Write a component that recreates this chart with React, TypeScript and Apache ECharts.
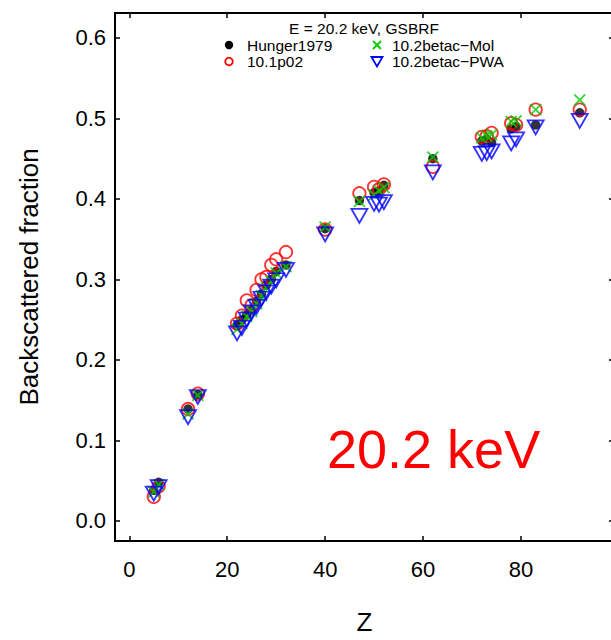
import React, { useEffect, useRef } from "react";
import * as echarts from "echarts";

// Atomic number Z of each measured element
const atomicZ = [5, 6, 12, 14, 22, 23, 24, 25, 26, 27, 28, 29, 30, 32, 40, 47, 50, 51, 52, 62, 72, 73, 74, 78, 79, 83, 92];
// Backscattered fraction per data set
const hunger1979 = [0.038, 0.048, 0.139, 0.157, 0.243, 0.25, 0.256, 0.262, 0.273, 0.282, 0.293, 0.3, 0.31, 0.318, 0.363, 0.398, 0.408, 0.41, 0.417, 0.45, 0.472, 0.474, 0.47, 0.487, 0.49, 0.492, 0.507];
const g4_101p02 = [0.03, 0.043, 0.139, 0.158, 0.245, 0.255, 0.274, 0.268, 0.287, 0.3, 0.303, 0.318, 0.325, 0.334, 0.362, 0.407, 0.415, 0.412, 0.418, 0.44, 0.477, 0.478, 0.482, 0.494, 0.492, 0.511, 0.511];
const betacMol = [0.036, 0.045, 0.133, 0.156, 0.238, 0.245, 0.254, 0.26, 0.27, 0.28, 0.29, 0.298, 0.308, 0.316, 0.365, 0.397, 0.405, 0.41, 0.414, 0.452, 0.476, 0.478, 0.48, 0.496, 0.497, 0.511, 0.523];
const betacPWA = [0.034, 0.042, 0.129, 0.154, 0.233, 0.24, 0.25, 0.259, 0.266, 0.276, 0.284, 0.291, 0.299, 0.312, 0.356, 0.379, 0.394, 0.393, 0.396, 0.433, 0.456, 0.457, 0.459, 0.469, 0.474, 0.489, 0.497];

const seriesNames = ["Hunger1979", "10.1p02", "10.2betac\u2212Mol", "10.2betac\u2212PWA"];
const legendTitle = "E = 20.2 keV, GSBRF";
const energyLabel = "20.2 keV";
const xTitle = "Z";
const yTitle = "Backscattered fraction";

const FONT = '"Liberation Sans", Arial, Helvetica, sans-serif';

const pairs = (vals: number[]) => atomicZ.map((z, i) => [z, vals[i]]);

export default function App() {
  const ref = useRef<HTMLDivElement>(null);
  useEffect(() => {
    if (!ref.current) return;
    const chart = echarts.init(ref.current, null, { renderer: "svg" });
    const axisLineStyle = { color: "#000", width: 2 };
    const tickStyle = { color: "#000", width: 1.5 };
    const yFmt = (v: number) =>
      Math.abs(v * 10 - Math.round(v * 10)) < 1e-6 ? (Math.round(v * 10) / 10).toFixed(1) : "";
    const xFmt = (v: number) =>
      Math.abs(v / 20 - Math.round(v / 20)) < 1e-6 ? String(Math.round(v)) : "";
    const xBase = {
      type: "value",
      min: -2.92,
      max: 99,
      minInterval: 20,
      maxInterval: 20,
      splitLine: { show: false },
      axisLine: { show: true, onZero: false, lineStyle: axisLineStyle },
      axisTick: { show: true, inside: true, length: 5, lineStyle: tickStyle },
    };
    const yBase = {
      type: "value",
      min: -0.0249,
      max: 0.631,
      minInterval: 0.1,
      maxInterval: 0.1,
      splitLine: { show: false },
      axisLine: { show: true, onZero: false, lineStyle: axisLineStyle },
      axisTick: { show: true, inside: true, length: 5, lineStyle: tickStyle },
    };
    const tx = (text: string, x: number, y: number, size: number, color = "#000", align = "left") => ({
      type: "text",
      x,
      y,
      style: { text, font: `${size}px ${FONT}`, fill: color, align, verticalAlign: "middle" },
    });
    chart.setOption({
      animation: false,
      backgroundColor: "#fff",
      grid: {
        left: 115,
        top: 13,
        width: 499,
        height: 528,
        containLabel: false,
        outerBoundsMode: "none",
      },
      xAxis: [
        {
          ...xBase,
          position: "bottom",
          name: xTitle,
          nameLocation: "middle",
          nameGap: 68,
          nameTextStyle: { fontFamily: FONT, fontSize: 26, color: "#000", lineHeight: 26 },
          axisLabel: { show: true, margin: 17, fontFamily: FONT, fontSize: 22, color: "#000", formatter: xFmt },
        },
        { ...xBase, position: "top", axisLabel: { show: false } },
      ],
      yAxis: [
        {
          ...yBase,
          position: "left",
          name: yTitle,
          nameLocation: "middle",
          nameGap: 73,
          nameTextStyle: { fontFamily: FONT, fontSize: 26, color: "#000" },
          axisLabel: { show: true, margin: 9, fontFamily: FONT, fontSize: 22, color: "#000", formatter: yFmt },
        },
        { ...yBase, position: "right", axisLabel: { show: false } },
      ],
      series: [
        {
          name: seriesNames[0],
          type: "scatter",
          data: pairs(hunger1979),
          symbol: "circle",
          symbolSize: 9.5,
          itemStyle: { color: "#000" },
        },
        {
          name: seriesNames[1],
          type: "scatter",
          data: pairs(g4_101p02),
          symbol: "circle",
          symbolSize: 12.5,
          itemStyle: { color: "rgba(0,0,0,0)", borderColor: "#ff0000", borderWidth: 1.8 },
        },
        {
          name: seriesNames[2],
          type: "scatter",
          data: pairs(betacMol),
          symbol: "path://M0,0L10,10M0,10L10,0",
          symbolSize: 11,
          itemStyle: { color: "rgba(0,0,0,0)", borderColor: "#00cc00", borderWidth: 1.8 },
        },
        {
          name: seriesNames[3],
          type: "scatter",
          data: pairs(betacPWA),
          symbol: "path://M0,0L16,0L8,14Z",
          symbolSize: [16, 14],
          itemStyle: { color: "rgba(0,0,0,0)", borderColor: "#0000ff", borderWidth: 1.8 },
        },
      ],
      graphic: [
        tx(legendTitle, 364, 28, 15.5, "#000", "center"),
        { type: "circle", shape: { cx: 229, cy: 45, r: 4.2 }, style: { fill: "#000" } },
        tx(seriesNames[0], 247, 45, 15.5),
        { type: "circle", shape: { cx: 229, cy: 61.5, r: 3.8 }, style: { fill: "none", stroke: "#ff0000", lineWidth: 1.8 } },
        tx(seriesNames[1], 247, 61.5, 15.5),
        { type: "line", shape: { x1: 373, y1: 41, x2: 381, y2: 49 }, style: { stroke: "#00cc00", lineWidth: 1.8 } },
        { type: "line", shape: { x1: 373, y1: 49, x2: 381, y2: 41 }, style: { stroke: "#00cc00", lineWidth: 1.8 } },
        tx(seriesNames[2], 392, 45, 15.5),
        {
          type: "polygon",
          shape: { points: [[371.5, 57], [382.5, 57], [377, 66.5]] },
          style: { fill: "none", stroke: "#0000ff", lineWidth: 1.8 },
        },
        tx(seriesNames[3], 392, 61.5, 15.5),
        tx(energyLabel, 327, 449, 54, "#ff0000", "left"),
      ],
    });
    return () => chart.dispose();
  }, []);
  return (
    <div
      ref={ref}
      style={{ position: "absolute", left: 0, top: 0, width: 611, height: 640, background: "#fff" }}
    />
  );
}
